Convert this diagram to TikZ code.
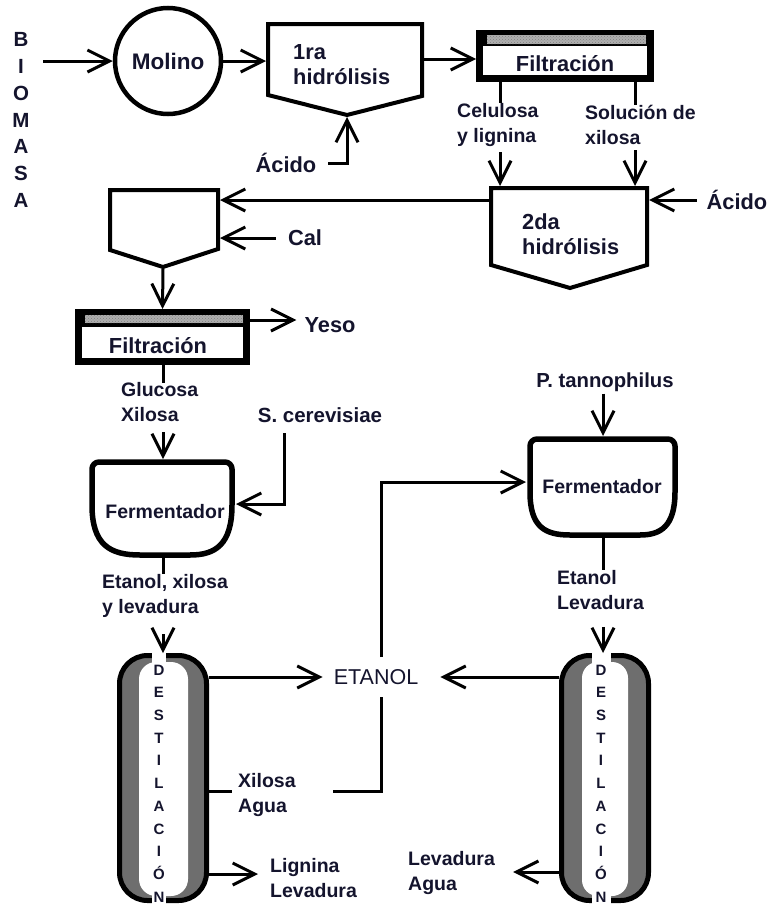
\documentclass[tikz,border=0pt]{standalone}
\usepackage{fontspec}
\setmainfont{Liberation Sans}
\usetikzlibrary{arrows.meta,patterns,calc}
\definecolor{colgray}{RGB}{110,110,110}
\definecolor{txt}{RGB}{20,20,45}
\definecolor{stripgray}{RGB}{175,175,175}
\begin{document}
\begin{tikzpicture}[x=1pt,y=-1pt,
  conn/.style={line width=3pt},
  arr/.style={line width=3pt,-{Straight Barb[length=22pt,width=22pt]}},
  shp/.style={line width=4pt, line join=miter},
  fermshape/.style={line width=5.5pt, line join=round},
  filt/.style={draw, line width=7pt, fill=white, inner sep=0pt},
  column/.style={draw, line width=5pt, fill=colgray, rounded corners=28pt, inner sep=0pt},
  bigl/.style={font=\fontsize{21.8}{25}\selectfont\bfseries, text=txt, inner sep=0pt, align=left},
  lbl/.style={font=\fontsize{19.5}{25}\selectfont\bfseries, text=txt, inner sep=0pt, align=left},
  fermt/.style={font=\fontsize{19.5}{22}\selectfont\bfseries, text=txt, inner sep=0pt},
  vert/.style={font=\fontsize{15}{22.7}\selectfont\bfseries, text=txt, inner sep=0pt, align=center},
  strip/.style={fill=stripgray}
]
\useasboundingbox (0,0) rectangle (771,905);

% ---------- BIOMASA and Molino ----------
\node[font=\fontsize{20.5}{26.7}\selectfont\bfseries, text=txt, inner sep=0pt, align=center] (biomasa) at (21,120) {B\\I\\O\\M\\A\\S\\A};
\node[draw, circle, line width=4.5pt, minimum size=106pt, inner sep=0pt, font=\fontsize{22.5}{25}\selectfont\bfseries, text=txt] (molino) at (168,61) {Molino};
\coordinate (bio) at (43,61);
\draw[arr] (bio) -- (molino.west);

% ---------- 1ra hidrolisis ----------
\draw[shp] (268,24) -- (422,24) -- (422,96) -- (347,115) -- (268,95) -- cycle;
\coordinate (hyd1w) at (266,61);
\coordinate (hyd1e) at (424,59);
\coordinate (hyd1b) at (347,117);
\node[bigl, anchor=west] (hyd1t) at (293,64.5) {1ra\\hidrólisis};
\draw[arr] (molino.east) -- (hyd1w);

\node[bigl] (acido1) at (286,163) {Ácido};
\draw[arr] ([xshift=12pt]acido1.east) -| (hyd1b);

% ---------- Filtracion 1 ----------
\node[filt, minimum width=171pt, minimum height=45pt] (f1) at (565,56) {};
\fill (f1.north west) rectangle ([yshift=-16pt]f1.north east);
\fill[strip] (487,35) rectangle (646,44);
\fill[pattern=crosshatch dots, pattern color=gray] (487,35) rectangle (646,44);
\node[bigl] (f1t) at (565,64) {Filtración};
\draw[arr] (hyd1e) -- (f1.west |- hyd1e);

\coordinate (c1) at (500,0);
\coordinate (c2) at (635,0);
\node[lbl, anchor=west] (cel) at (457,124.5) {Celulosa\\y lignina};
\node[lbl, anchor=west] (sol) at (585,124.5) {Solución de\\xilosa};
\draw[conn] (f1.south -| c1) -- (c1 |- cel.north);
\draw[conn] (f1.south -| c2) -- (c2 |- sol.north);

% ---------- 2da hidrolisis ----------
\draw[shp] (491,188) -- (647,188) -- (647,265) -- (570,288) -- (491,265) -- cycle;
\coordinate (hyd2n1) at (500,186);
\coordinate (hyd2n2) at (635,186);
\coordinate (hyd2e) at (649,200);
\coordinate (hyd2w) at (489,200);
\node[bigl, anchor=west] (hyd2t) at (522,234.5) {2da\\hidrólisis};
\draw[arr] ([yshift=-6pt]cel.south -| c1) -- (hyd2n1);
\draw[arr] ([yshift=-6pt]sol.south -| c2) -- (hyd2n2);

\node[bigl] (acido2) at (737,200) {Ácido};
\draw[arr] ([xshift=-10pt]acido2.west) -- (hyd2e);

% ---------- Neutralization box ----------
\draw[shp] (110,190) -- (218,190) -- (218,249) -- (163,267) -- (110,250) -- cycle;
\coordinate (neute) at (220,200);
\coordinate (neutcal) at (220,238);
\coordinate (neutb) at (163,269);
\draw[arr] (hyd2w) -- (neute);
\node[bigl] (cal) at (305,238) {Cal};
\draw[arr] ([xshift=-12pt]cal.west) -- (neutcal);

% ---------- Filtracion 2 ----------
\node[filt, minimum width=168pt, minimum height=49pt] (f2) at (162.5,337) {};
\fill (f2.north west) rectangle ([yshift=-17.5pt]f2.north east);
\fill[strip] (85,315) rectangle (243,323);
\fill[pattern=crosshatch dots, pattern color=gray] (85,315) rectangle (243,323);
\node[bigl] (f2t) at (158,346) {Filtración};
\draw[arr] (neutb) -- (f2.north);

\node[bigl] (yeso) at (330,325) {Yeso};
\coordinate (yesoc) at (0,320);
\draw[arr] (f2.east |- yesoc) -- ([xshift=-8pt]yeso.west |- yesoc);

% ---------- Fermentador 1 ----------
\coordinate (g) at (163,0);
\node[lbl, anchor=west] (gluc) at (121,402.5) {Glucosa\\Xilosa};
\draw[conn] (f2.south -| g) -- (g |- gluc.north);
\draw[fermshape] (92,505) [rounded corners=7pt] -- (92,462) -- (232,462) [sharp corners] -- (232,505)
   .. controls (232,545) and (215,555) .. (190,555) -- (140,555)
   .. controls (110,555) and (92,545) .. (92,505) -- cycle;
\coordinate (ferm1n) at (163,459);
\coordinate (ferm1e) at (236,504);
\coordinate (ferm1s) at (163,555);
\node[fermt] (ferm1t) at (165,512) {Fermentador};
\draw[arr] ([yshift=-10pt]gluc.south -| g) -- (ferm1n);

\node[bigl, font=\fontsize{20.5}{25}\selectfont\bfseries] (scer) at (320,415) {S. cerevisiae};
\coordinate (scerd) at (284,433);
\draw[arr] (scerd) |- (ferm1e);

\node[lbl, anchor=west] (exl) at (102,595.5) {Etanol, xilosa\\y levadura};
\draw[conn] (ferm1s) -- (g |- exl.north);

% ---------- Columna 1 ----------
\node[column, minimum width=87pt, minimum height=245pt] (col1) at (163,778) {};
\fill[white, rounded corners=17pt] (139,662) rectangle (188,896);
\fill[white] (152,650) rectangle (166,905);
\node[vert] (dest1) at (159,783.5) {D\\E\\S\\T\\I\\L\\A\\C\\I\\Ó\\N};
\draw[arr] ([yshift=-17pt]exl.south -| g) -- (col1.north -| g);

% ---------- ETANOL ----------
\node[font=\fontsize{21.5}{25}\selectfont, text=txt, inner xsep=11pt, inner ysep=12pt] (etanol) at (376,677) {ETANOL};
\coordinate (et) at (0,677);
\draw[arr] (col1.east |- et) -- (etanol.west);

\node[lbl, anchor=west] (xa) at (238,794.5) {Xilosa\\Agua};
\coordinate (xaL) at (232,791);
\coordinate (xaR) at (333,791);
\coordinate (vx) at (381,0);
\draw[conn] (col1.east |- xaL) -- (xaL);
\draw[conn] (xaR) -| (etanol.south -| vx);

% ---------- Fermentador 2 ----------
\draw[fermshape] (530,492) [rounded corners=7pt] -- (530,439) -- (675,439) [sharp corners] -- (675,492)
   .. controls (675,527) and (660,535) .. (640,535) -- (570,535)
   .. controls (545,535) and (530,527) .. (530,492) -- cycle;
\coordinate (ferm2n) at (603,436);
\coordinate (ferm2w) at (526,482);
\coordinate (ferm2s) at (603,535);
\node[fermt] (ferm2t) at (602,487) {Fermentador};
\draw[arr] (etanol.north -| vx) |- (ferm2w);

\node[bigl, font=\fontsize{20.3}{25}\selectfont\bfseries] (ptan) at (605,382) {P. tannophilus};
\draw[arr] ([yshift=-2pt]ptan.south -| ferm2n) -- (ferm2n);

\coordinate (g2) at (603,0);
\node[lbl, anchor=west] (el) at (557,590) {Etanol\\Levadura};
\draw[conn] (ferm2s) -- (g2 |- el.north);

% ---------- Columna 2 ----------
\node[column, minimum width=87pt, minimum height=245pt] (col2) at (605,778) {};
\fill[white, rounded corners=16pt] (582,662) rectangle (628,896);
\fill[white] (592,650) rectangle (611,905);
\node[vert] (dest2) at (601,783.5) {D\\E\\S\\T\\I\\L\\A\\C\\I\\Ó\\N};
\draw[arr] ([yshift=-17pt]el.south -| g2) -- (col2.north -| g2);
\draw[arr] (col2.west |- et) -- ([xshift=11pt]etanol.east);

% ---------- Salidas inferiores ----------
\node[lbl, anchor=west] (ll) at (270,878.5) {Lignina\\Levadura};
\coordinate (llc) at (0,874);
\draw[arr] (col1.east |- llc) -- ([xshift=-12pt]ll.west |- llc);

\node[lbl, anchor=west] (la) at (408,872.5) {Levadura\\Agua};
\coordinate (lac) at (0,872);
\draw[arr] (col2.west |- lac) -- ([xshift=18pt]la.east |- lac);
\end{tikzpicture}
\end{document}
